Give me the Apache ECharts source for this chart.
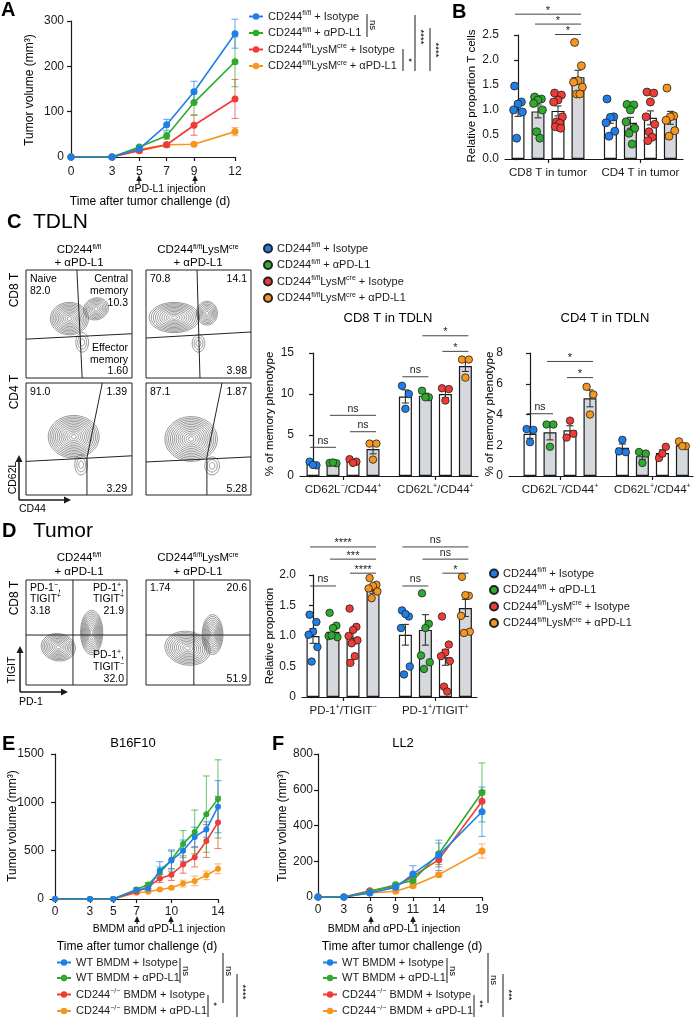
<!DOCTYPE html>
<html>
<head>
<meta charset="utf-8">
<script src="https://cdn.jsdelivr.net/npm/echarts@6/dist/echarts.min.js"></script>
<style>
  html, body { margin: 0; padding: 0; background: #fff; }
  #page { position: relative; width: 694px; height: 1019px; overflow: hidden; }
  .panel { position: absolute; left: 0; top: 0; width: 694px; height: 1100px; }
</style>
</head>
<body>
<div id="page">
  <div class="panel" id="chartA"></div>
  <div class="panel" id="chartB"></div>
  <div class="panel" id="chartC"></div>
  <div class="panel" id="chartD"></div>
  <div class="panel" id="chartE"></div>
  <div class="panel" id="chartF"></div>
</div>
<script>
// ---------- data ----------
// group names ('^' marks superscript)
const namesCD = ['CD244^fl/fl^ + Isotype', 'CD244^fl/fl^ + αPD-L1', 'CD244^fl/fl^LysM^cre^ + Isotype', 'CD244^fl/fl^LysM^cre^ + αPD-L1']
const namesBM = ['WT BMDM + Isotype', 'WT BMDM + αPD-L1', 'CD244^−/−^ BMDM + Isotype', 'CD244^−/−^ BMDM + αPD-L1']

// A: tumor volume
const daysA = [0, 3, 5, 7, 9, 12]
const aIso = [0, 0, 18, 71, 144, 272]
const aIsoErr = [0, 0, 3, 12, 23, 32]
const aPd = [0, 0, 22, 47, 120, 210]
const aPdErr = [0, 0, 3, 8, 27, 55]
const aLysIso = [0, 0, 14, 27, 70, 128]
const aLysIsoErr = [0, 0, 3, 5, 22, 43]
const aLysPd = [0, 0, 17, 27, 28, 56]
const aLysPdErr = [0, 0, 2, 3, 3, 9]

// B: relative proportion T cells
const bGroups = ['CD8 T in tumor', 'CD4 T in tumor']
const bBar8 = [1.0, 0.96, 0.97, 1.65]
const bErr8 = [0.14, 0.13, 0.1, 0.14]
const bBar4 = [0.80, 0.73, 0.83, 0.83]
const bErr4 = [0.08, 0.11, 0.14, 0.13]
const b8Iso = [1.47, 1.15, 1.11, 0.99, 0.95, 0.42]
const b8Pd = [1.25, 1.21, 1.19, 1.12, 0.99, 0.55, 0.42]
const b8LysIso = [1.33, 1.29, 1.19, 1.15, 0.85, 0.75, 0.72, 0.65, 0.62]
const b8LysPd = [2.35, 1.88, 1.58, 1.55, 1.45, 1.31, 1.31]
const b4Iso = [1.21, 0.85, 0.84, 0.73, 0.56, 0.46]
const b4Pd = [1.10, 1.09, 0.99, 0.75, 0.62, 0.52, 0.30]
const b4LysIso = [1.35, 1.33, 1.15, 0.85, 0.70, 0.55, 0.44, 0.37]
const b4LysPd = [1.43, 0.87, 0.85, 0.78, 0.57, 0.46]
const bSig = [[0, 0, 3, 2.92], [0, 1, 3, 2.72], [0, 2, 3, 2.51]]
const bSigText = ['*', '*', '*']

// C: TDLN flow + memory phenotype
const cGroups = ['CD62L^−^/CD44^+^', 'CD62L^+^/CD44^+^']
const c8Bar1 = [1.45, 1.6, 1.8, 3.3]
const c8Err1 = [0.15, 0.05, 0.15, 0.6]
const c8Bar2 = [9.7, 9.8, 10.0, 13.4]
const c8Err2 = [0.8, 0.3, 0.45, 0.65]
const c8Iso1 = [1.75, 1.3, 1.35]
const c8Pd1 = [1.6, 1.55, 1.65]
const c8LysIso1 = [2.05, 1.75, 1.6]
const c8LysPd1 = [3.95, 3.95, 2.0]
const c8Iso2 = [11.0, 10.0, 8.2]
const c8Pd2 = [10.4, 9.6, 9.6]
const c8LysIso2 = [10.7, 10.6, 9.2]
const c8LysPd2 = [14.2, 14.2, 12.0]
const c8Sig = [[0, 0, 1, 3.5], [0, 1, 3, 7.4], [0, 2, 3, 5.4], [1, 0, 1, 12.1], [1, 1, 3, 17.1], [1, 2, 3, 15.2]]
const c8SigText = ['ns', 'ns', 'ns', 'ns', '*', '*']
const c4Bar1 = [2.75, 2.85, 2.97, 5.05]
const c4Err1 = [0.3, 0.5, 0.3, 0.55]
const c4Bar2 = [1.83, 1.29, 1.5, 2.0]
const c4Err2 = [0.25, 0.2, 0.2, 0.1]
const c4Iso1 = [3.05, 3.0, 2.2]
const c4Pd1 = [3.35, 3.35, 1.9]
const c4LysIso1 = [2.5, 2.75, 3.6]
const c4LysPd1 = [5.8, 5.3, 4.0]
const c4Iso2 = [1.6, 1.55, 2.35]
const c4Pd2 = [1.56, 1.46, 0.85]
const c4LysIso2 = [1.17, 1.9, 1.46]
const c4LysPd2 = [2.25, 1.94, 1.94]
const c4Sig = [[0, 0, 1, 4.05], [0, 1, 3, 7.45], [0, 2, 3, 6.4]]
const c4SigText = ['ns', '*', '*']
// flow gates (plot units 0-100) and contour populations [cx, cy, rx, ry, levels, angle]
const gateC8a = [[[48, 100], [53, 0]], [[0, 36], [100, 41]]]
const gateC8b = [[[48.6, 100], [51.4, 0]], [[0, 37], [100, 42.6]]]
const gateC4a = [[[72, 100], [57.5, 33], [57.5, 0]], [[0, 30], [100, 35]]]
const gateC4b = [[[72.4, 100], [58, 34], [58, 0]], [[0, 29.5], [100, 34]]]
const popC8a = [[41, 55, 18, 15, 11, 0], [66, 64, 12, 10, 8, -20], [53, 33, 6, 9, 3, 0]]
const popC8b = [[27, 56, 24, 14, 11, 0], [58, 60, 10, 11, 8, 0], [50, 32, 6, 8, 3, 0]]
const popC4a = [[45, 52, 24, 19, 13, 0], [52, 27, 6, 9, 3, 0]]
const popC4b = [[43, 50, 25, 20, 13, 0], [63, 26, 7, 8, 3, 0]]

// D: tumor flow + relative proportion
const dGroups = ['PD-1^+^/TIGIT^−^', 'PD-1^+^/TIGIT^+^']
const dBar1 = [1.0, 1.07, 0.97, 1.75]
const dErr1 = [0.12, 0.07, 0.1, 0.05]
const dBar2 = [1.02, 1.1, 0.65, 1.46]
const dErr2 = [0.17, 0.25, 0.13, 0.14]
const d1Iso = [1.35, 1.23, 1.07, 1.02, 0.82, 0.58]
const d1Pd = [1.38, 1.17, 1.13, 1.0, 0.98, 1.01]
const d1LysIso = [1.45, 1.15, 1.1, 1.0, 0.93, 0.88, 0.67, 0.56]
const d1LysPd = [1.95, 1.84, 1.82, 1.78, 1.73, 1.62]
const d2Iso = [1.42, 1.32, 1.36, 1.13, 0.5, 0.37]
const d2Pd = [1.7, 1.2, 1.13, 0.68, 0.57, 0.46]
const d2LysIso = [1.32, 0.86, 0.73, 0.67, 0.59, 0.17, 0.09]
const d2LysPd = [1.97, 1.66, 1.67, 1.33, 1.07, 1.05]
const dSig = [[0, 0, 3, 2.46], [0, 1, 3, 2.26], [0, 2, 3, 2.03], [0, 0, 1, 1.82], [1, 0, 3, 2.46], [1, 1, 3, 2.26], [1, 2, 3, 2.03], [1, 0, 1, 1.82]]
const dSigText = ['****', '***', '****', 'ns', 'ns', 'ns', '*', 'ns']
const gateDa = [[[46.5, 100], [46.5, 0]], [[0, 47.6], [100, 47.6]]]
const gateDb = [[[46, 100], [46, 0]], [[0, 47.6], [100, 47.6]]]
const popDa = [[32, 36, 17, 13, 10, 10], [65, 50, 11, 21, 11, 0]]
const popDb = [[40, 35, 22, 16, 11, 10], [64, 48, 10, 19, 10, 0]]

// E: B16F10
const daysE = [0, 3, 5, 7, 8, 9, 10, 11, 12, 13, 14]
const eWtIso = [0, 0, 0, 92, 109, 296, 398, 500, 642, 719, 955]
const eWtIsoErr = [0, 0, 0, 20, 25, 90, 110, 110, 100, 80, 270]
const eWtPd = [0, 0, 0, 99, 150, 272, 405, 568, 694, 878, 1035]
const eWtPdErr = [0, 0, 0, 15, 20, 60, 90, 140, 226, 395, 405]
const eKoIso = [0, 0, 0, 75, 126, 211, 252, 357, 432, 600, 792]
const eKoIsoErr = [0, 0, 0, 15, 20, 40, 60, 90, 100, 170, 270]
const eKoPd = [0, 0, 0, 65, 75, 99, 116, 160, 187, 245, 313]
const eKoPdErr = [0, 0, 0, 10, 10, 12, 15, 35, 50, 45, 50]

// F: LL2
const daysF = [0, 3, 6, 9, 11, 14, 19]
const fWtIso = [0, 0, 22, 54, 128, 233, 477]
const fWtIsoErr = [0, 0, 4, 10, 47, 85, 138]
const fWtPd = [0, 0, 30, 69, 93, 242, 585]
const fWtPdErr = [0, 0, 4, 10, 15, 60, 165]
const fKoIso = [0, 0, 35, 60, 115, 209, 536]
const fKoIsoErr = [0, 0, 4, 8, 15, 40, 60]
const fKoPd = [0, 0, 22, 32, 63, 125, 257]
const fKoPdErr = [0, 0, 3, 5, 8, 10, 40]

// ---------- styles / helpers ----------
const FONT = '"Liberation Sans", Arial, Helvetica, sans-serif'
const INK = '#1a1a1a'
const COLORS = ['#1f7fe8', '#2faa2f', '#ee3b36', '#f7961e']
const BAR_FILL = ['#ffffff', '#d5d8dc', '#ffffff', '#d5d8dc']
const JIT = [-0.17, 0.17, 0, -0.22, 0.22, -0.07, 0.09, -0.13, 0.13]
const GROUP_OFFSET = 4.62
const LEGEND_SIZE = 11

function rt(s) {
  return s.split('^').map((p, i) => p ? (i % 2 ? '{s|' + p + '}' : '{n|' + p + '}') : '').join('')
}
function rich(size, color, bold) {
  return {
    n: { fontSize: size, fontFamily: FONT, color: color || INK, fontWeight: bold ? 'bold' : 'normal', lineHeight: size + 2 },
    s: { fontSize: Math.round(size * 0.64), fontFamily: FONT, color: color || INK, verticalAlign: 'top' }
  }
}
function T(x, y, s, size, o) {
  o = o || {}
  return {
    type: 'text', x: x, y: y, rotation: o.rot || 0, silent: true, z: 20,
    style: { text: rt(s), rich: rich(size, o.color, o.bold), align: o.align || 'left', verticalAlign: 'middle' }
  }
}
function L(x1, y1, x2, y2, w) {
  return { type: 'line', silent: true, z: 20, shape: { x1: x1, y1: y1, x2: x2, y2: y2 }, style: { stroke: INK, lineWidth: w || 1 } }
}
function upArrow(x, tip, tail) {
  return [L(x, tail, x, tip + 4, 1.2),
    { type: 'polygon', silent: true, z: 20, shape: { points: [[x, tip], [x - 2.8, tip + 6], [x + 2.8, tip + 6]] }, style: { fill: INK } }]
}
function rightArrow(x1, tip, y) {
  return [L(x1, y, tip - 4, y, 1.5),
    { type: 'polygon', silent: true, z: 20, shape: { points: [[tip, y], [tip - 7, y - 3.5], [tip - 7, y + 3.5]] }, style: { fill: INK } }]
}
function axisUpArrow(x, tip, y) {
  return [L(x, y, x, tip + 4, 1.5),
    { type: 'polygon', silent: true, z: 20, shape: { points: [[x, tip], [x - 3.5, tip + 7], [x + 3.5, tip + 7]] }, style: { fill: INK } }]
}
function bracket(x, y1, y2, text, ty) {
  return [L(x, y1, x, y2, 1), T(x + 6, ty, text, 9.5, { rot: -Math.PI / 2, align: 'center' })]
}

function yAxisV(gi, min, max, interval, fmt, margin) {
  return {
    type: 'value', gridIndex: gi, min: min, max: max, interval: interval,
    axisLine: { show: true, lineStyle: { color: INK, width: 1.2 } },
    axisTick: { show: true, length: 4, lineStyle: { color: INK, width: 1.2 } },
    axisLabel: { color: INK, fontFamily: FONT, fontSize: 12, margin: margin || 6, formatter: fmt || ((v) => String(v)) },
    splitLine: { show: false }
  }
}
function xAxisDays(gi, min, max, ticks, margin) {
  return {
    type: 'value', gridIndex: gi, min: min, max: max,
    axisLine: { show: true, onZero: false, lineStyle: { color: INK, width: 1.2 } },
    axisTick: { show: true, length: 4, customValues: ticks, lineStyle: { color: INK, width: 1.2 } },
    axisLabel: { color: INK, fontFamily: FONT, fontSize: 12, margin: margin || 7, customValues: ticks },
    splitLine: { show: false }
  }
}

function errRender(color, cap) {
  return function (params, api) {
    const e = api.value(2)
    if (!e) return null
    const x = api.value(0), m = api.value(1)
    const top = api.coord([x, m + e]), bot = api.coord([x, m - e])
    const st = { stroke: color, lineWidth: 1.1 }
    return {
      type: 'group', children: [
        { type: 'line', shape: { x1: top[0], y1: top[1], x2: bot[0], y2: bot[1] }, style: st },
        { type: 'line', shape: { x1: top[0] - cap, y1: top[1], x2: top[0] + cap, y2: top[1] }, style: st },
        { type: 'line', shape: { x1: bot[0] - cap, y1: bot[1], x2: bot[0] + cap, y2: bot[1] }, style: st }
      ]
    }
  }
}

function tumorSeries(gi, names, days, vals, errs, size) {
  const out = []
  // drawn orange first so blue ends on top
  for (let k = 3; k >= 0; k--) {
    out.push({
      type: 'custom', xAxisIndex: gi, yAxisIndex: gi, clip: false, silent: true, z: 2,
      renderItem: errRender(echarts.color.modifyAlpha(COLORS[k], 0.65), 3.5),
      data: days.map((d, i) => [d, vals[k][i], errs[k][i]])
    })
    out.push({
      name: names[k], type: 'line', xAxisIndex: gi, yAxisIndex: gi, z: 3 + (3 - k),
      data: days.map((d, i) => [d, vals[k][i]]),
      symbol: 'circle', symbolSize: size, showSymbol: true,
      itemStyle: { color: COLORS[k] }, lineStyle: { color: COLORS[k], width: 1.6 }
    })
  }
  return out
}

function lineLegend(names, left, top) {
  return {
    orient: 'vertical', left: left, top: top, padding: 0, itemGap: 4.5, itemWidth: 14, itemHeight: 8,
    data: names, selectedMode: false,
    formatter: (n) => rt(n),
    textStyle: { fontFamily: FONT, fontSize: LEGEND_SIZE, color: INK, rich: rich(LEGEND_SIZE) }
  }
}
function dotLegend(names, left, top) {
  return {
    orient: 'vertical', left: left, top: top, padding: 0, itemGap: 4.5, itemWidth: 8, itemHeight: 8, icon: 'circle',
    data: names, selectedMode: false,
    formatter: (n) => rt(n),
    textStyle: { fontFamily: FONT, fontSize: LEGEND_SIZE, color: INK, rich: rich(LEGEND_SIZE) }
  }
}

function slot(g, i) { return g * GROUP_OFFSET + i }

// bar + dots + SEM + significance in one grid
function barPanel(gi, box, yCfg, groupLabels, bars, errs, dots, sig, sigText, dotSize) {
  const mid = [slot(0, 1.5), slot(1, 1.5)]
  const grid = { left: box[0], top: box[1], width: box[2], height: box[3] }
  const xAxis = {
    type: 'value', gridIndex: gi, min: box[4], max: box[5],
    axisLine: { show: true, onZero: false, lineStyle: { color: INK, width: 1.2 } },
    axisTick: { show: true, length: 4, customValues: mid, lineStyle: { color: INK, width: 1.2 } },
    axisLabel: {
      customValues: mid, margin: 7,
      formatter: (v) => rt(groupLabels[v < GROUP_OFFSET ? 0 : 1]),
      rich: rich(11.5)
    },
    splitLine: { show: false }
  }
  const yAxis = yAxisV(gi, yCfg[0], yCfg[1], yCfg[2], yCfg[3], 6)
  const series = []
  const barData = []
  const errData = []
  for (let g = 0; g < 2; g++) {
    for (let i = 0; i < 4; i++) {
      barData.push({ value: [slot(g, i), bars[g][i]], itemStyle: { color: BAR_FILL[i] } })
      errData.push([slot(g, i), bars[g][i], errs[g][i]])
    }
  }
  series.push({
    type: 'bar', xAxisIndex: gi, yAxisIndex: gi, barWidth: 13, silent: true, z: 2,
    itemStyle: { borderColor: INK, borderWidth: 1.2 }, data: barData
  })
  series.push({
    type: 'custom', xAxisIndex: gi, yAxisIndex: gi, clip: false, silent: true, z: 3,
    renderItem: errRender('#333', 3.5), data: errData
  })
  for (let i = 0; i < 4; i++) {
    const pts = []
    for (let g = 0; g < 2; g++) {
      dots[g][i].forEach((v, k) => pts.push([slot(g, i) + JIT[k % JIT.length], v]))
    }
    series.push({
      name: namesCD[i], type: 'scatter', xAxisIndex: gi, yAxisIndex: gi, z: 4, silent: true,
      symbolSize: dotSize, data: pts,
      itemStyle: { color: COLORS[i], borderColor: '#222', borderWidth: 0.8, opacity: 1 }
    })
  }
  series.push({
    type: 'custom', xAxisIndex: gi, yAxisIndex: gi, clip: false, silent: true, z: 5,
    data: sig.map((s) => [slot(s[0], s[1]), slot(s[0], s[2]), s[3]]),
    renderItem: function (params, api) {
      const a = api.coord([api.value(0), api.value(2)])
      const b = api.coord([api.value(1), api.value(2)])
      const label = sigText[params.dataIndex]
      return {
        type: 'group', children: [
          { type: 'line', shape: { x1: a[0] - 3, y1: a[1], x2: b[0] + 3, y2: b[1] }, style: { stroke: '#444', lineWidth: 1 } },
          {
            type: 'text', x: (a[0] + b[0]) / 2, y: a[1] - (label === 'ns' ? 1 : -2),
            style: { text: label, fontFamily: FONT, fontSize: label === 'ns' ? 10.5 : 11, fill: INK, align: 'center', verticalAlign: 'bottom' }
          }
        ]
      }
    }
  })
  return { grid: grid, xAxis: xAxis, yAxis: yAxis, series: series }
}

function blobRender(params, api) {
  const c = api.coord([api.value(0), api.value(1)])
  const s = api.size([api.value(2), api.value(3)])
  const n = api.value(4), ang = api.value(5) * Math.PI / 180
  const kids = []
  for (let k = n; k >= 1; k--) {
    const f = Math.pow(k / n, 0.9)
    const pts = []
    for (let t = 0; t < 48; t++) {
      const a = t / 48 * Math.PI * 2
      const ex = Math.cos(a) * s[0] * f, ey = Math.sin(a) * s[1] * f
      pts.push([c[0] + ex * Math.cos(ang) - ey * Math.sin(ang), c[1] + ex * Math.sin(ang) + ey * Math.cos(ang)])
    }
    kids.push({ type: 'polygon', shape: { points: pts }, style: { fill: 'none', stroke: '#5e5e5e', lineWidth: 0.65 } })
  }
  return { type: 'group', children: kids }
}

// one flow plot: box grid, gate lines, contour populations
function flowPanel(gi, box, gates, pops) {
  const grid = { left: box[0], top: box[1], width: box[2], height: box[3], show: true, borderColor: '#222', borderWidth: 1, backgroundColor: 'transparent' }
  const xAxis = { type: 'value', gridIndex: gi, min: 0, max: 100, show: false }
  const yAxis = { type: 'value', gridIndex: gi, min: 0, max: 100, show: false }
  const series = [{
    type: 'custom', xAxisIndex: gi, yAxisIndex: gi, silent: true, z: 2, renderItem: blobRender, data: pops
  }]
  gates.forEach((g) => series.push({
    type: 'line', xAxisIndex: gi, yAxisIndex: gi, silent: true, z: 3, symbol: 'none',
    data: g, lineStyle: { color: '#222', width: 1 }
  }))
  return { grid: grid, xAxis: xAxis, yAxis: yAxis, series: series }
}

function combine(parts) {
  const o = { grid: [], xAxis: [], yAxis: [], series: [] }
  parts.forEach((p) => { o.grid.push(p.grid); o.xAxis.push(p.xAxis); o.yAxis.push(p.yAxis); o.series = o.series.concat(p.series) })
  return o
}

// ---------- A ----------
const chartA = echarts.init(document.getElementById('chartA'))
chartA.setOption({
  animation: false,
  grid: { left: 71, top: 21, width: 164, height: 136 },
  xAxis: xAxisDays(0, 0, 12, daysA, 9),
  yAxis: yAxisV(0, 0, 300, 100, null, 7),
  legend: lineLegend(namesCD, 248, 10),
  series: tumorSeries(0, namesCD, daysA, [aIso, aPd, aLysIso, aLysPd], [aIsoErr, aPdErr, aLysIsoErr, aLysPdErr], 7),
  graphic: [
    T(1, 10, 'A', 20, { bold: true }),
    T(30, 90, 'Tumor volume (mm³)', 12, { rot: Math.PI / 2, align: 'center' }),
    T(167, 189, 'αPD-L1 injection', 10.5, { align: 'center' }),
    T(150, 202, 'Time after tumor challenge (d)', 12, { align: 'center' })
  ].concat(upArrow(139, 175, 184), upArrow(195, 175, 184),
    bracket(367, 14, 37, 'ns', 25), bracket(403, 49, 71, '*', 60),
    bracket(415, 15, 71, '****', 37), bracket(430, 28, 71, '****', 50))
})

// ---------- B ----------
const chartB = echarts.init(document.getElementById('chartB'))
const partB = barPanel(0, [505, 35, 178, 124, -0.65, 8.25], [0, 2.5, 0.5, (v) => v.toFixed(1)], bGroups,
  [bBar8, bBar4], [bErr8, bErr4],
  [[b8Iso, b8Pd, b8LysIso, b8LysPd], [b4Iso, b4Pd, b4LysIso, b4LysPd]], bSig, bSigText, 8)
chartB.setOption(Object.assign({ animation: false }, combine([partB]), {
  graphic: [
    T(452, 12, 'B', 20, { bold: true }),
    T(472, 96, 'Relative proportion T cells', 11.5, { rot: Math.PI / 2, align: 'center' })
  ]
}))

// ---------- C ----------
const chartC = echarts.init(document.getElementById('chartC'))
const partsC = [
  flowPanel(0, [26, 270, 106, 108], gateC8a, popC8a),
  flowPanel(1, [146, 270, 105, 108], gateC8b, popC8b),
  flowPanel(2, [26, 383, 106, 112], gateC4a, popC4a),
  flowPanel(3, [146, 383, 105, 112], gateC4b, popC4b),
  barPanel(4, [300, 353, 178, 123, -0.65, 8.25], [0, 15, 5, null], cGroups,
    [c8Bar1, c8Bar2], [c8Err1, c8Err2],
    [[c8Iso1, c8Pd1, c8LysIso1, c8LysPd1], [c8Iso2, c8Pd2, c8LysIso2, c8LysPd2]], c8Sig, c8SigText, 7.5),
  barPanel(5, [509, 353, 184, 123, -1.05, 8.15], [0, 8, 2, null], cGroups,
    [c4Bar1, c4Bar2], [c4Err1, c4Err2],
    [[c4Iso1, c4Pd1, c4LysIso1, c4LysPd1], [c4Iso2, c4Pd2, c4LysIso2, c4LysPd2]], c4Sig, c4SigText, 7.5)
]
chartC.setOption(Object.assign({ animation: false }, combine(partsC), {
  legend: dotLegend(namesCD, 263, 242),
  graphic: [
    T(7, 222, 'C', 20, { bold: true }),
    T(33, 222, 'TDLN', 21),
    T(79, 250, 'CD244^fl/fl^', 11.5, { align: 'center' }),
    T(79, 263, '+ αPD-L1', 11.5, { align: 'center' }),
    T(198, 250, 'CD244^fl/fl^LysM^cre^', 11.5, { align: 'center' }),
    T(198, 263, '+ αPD-L1', 11.5, { align: 'center' }),
    T(15, 290, 'CD8 T', 12, { rot: Math.PI / 2, align: 'center' }),
    T(15, 392, 'CD4 T', 12, { rot: Math.PI / 2, align: 'center' }),
    T(30, 279, 'Naive', 10.5), T(30, 291, '82.0', 10.5),
    T(128, 279, 'Central', 10.5, { align: 'right' }), T(128, 291, 'memory', 10.5, { align: 'right' }), T(128, 303, '10.3', 10.5, { align: 'right' }),
    T(128, 348, 'Effector', 10.5, { align: 'right' }), T(128, 360, 'memory', 10.5, { align: 'right' }), T(128, 371, '1.60', 10.5, { align: 'right' }),
    T(150, 279, '70.8', 10.5), T(247, 279, '14.1', 10.5, { align: 'right' }), T(247, 371, '3.98', 10.5, { align: 'right' }),
    T(30, 392, '91.0', 10.5), T(127, 392, '1.39', 10.5, { align: 'right' }), T(127, 489, '3.29', 10.5, { align: 'right' }),
    T(150, 392, '87.1', 10.5), T(247, 392, '1.87', 10.5, { align: 'right' }), T(247, 489, '5.28', 10.5, { align: 'right' }),
    T(13, 478, 'CD62L', 10.5, { rot: Math.PI / 2, align: 'center' }),
    T(19, 509, 'CD44', 10.5),
    T(388, 318, 'CD8 T in TDLN', 13, { align: 'center' }),
    T(605, 318, 'CD4 T in TDLN', 13, { align: 'center' }),
    T(270, 414, '% of memory phenotype', 11.5, { rot: Math.PI / 2, align: 'center' }),
    T(490, 414, '% of memory phenotype', 11.5, { rot: Math.PI / 2, align: 'center' })
  ].concat(axisUpArrow(19, 455, 500), rightArrow(19, 71, 500))
}))

// ---------- D ----------
const chartD = echarts.init(document.getElementById('chartD'))
const partsD = [
  flowPanel(0, [26, 580, 101, 105], gateDa, popDa),
  flowPanel(1, [146, 580, 104, 105], gateDb, popDb),
  barPanel(2, [302, 575, 175, 122, -0.55, 8.2], [0, 2, 0.5, (v) => (v === 0 ? '0' : v.toFixed(1))], dGroups,
    [dBar1, dBar2], [dErr1, dErr2],
    [[d1Iso, d1Pd, d1LysIso, d1LysPd], [d2Iso, d2Pd, d2LysIso, d2LysPd]], dSig, dSigText, 7.5)
]
chartD.setOption(Object.assign({ animation: false }, combine(partsD), {
  legend: dotLegend(namesCD, 489, 567),
  graphic: [
    T(2, 531, 'D', 20, { bold: true }),
    T(33, 531, 'Tumor', 21),
    T(79, 558, 'CD244^fl/fl^', 11.5, { align: 'center' }),
    T(79, 572, '+ αPD-L1', 11.5, { align: 'center' }),
    T(198, 558, 'CD244^fl/fl^LysM^cre^', 11.5, { align: 'center' }),
    T(198, 572, '+ αPD-L1', 11.5, { align: 'center' }),
    T(15, 598, 'CD8 T', 12, { rot: Math.PI / 2, align: 'center' }),
    T(30, 588, 'PD-1^−^,', 10.5), T(30, 599, 'TIGIT^+^', 10.5), T(30, 611, '3.18', 10.5),
    T(124, 588, 'PD-1^+^,', 10.5, { align: 'right' }), T(124, 599, 'TIGIT^+^', 10.5, { align: 'right' }), T(124, 611, '21.9', 10.5, { align: 'right' }),
    T(124, 655, 'PD-1^+^,', 10.5, { align: 'right' }), T(124, 667, 'TIGIT^−^', 10.5, { align: 'right' }), T(124, 679, '32.0', 10.5, { align: 'right' }),
    T(150, 588, '1.74', 10.5), T(247, 588, '20.6', 10.5, { align: 'right' }), T(247, 679, '51.9', 10.5, { align: 'right' }),
    T(12, 670, 'TIGIT', 10.5, { rot: Math.PI / 2, align: 'center' }),
    T(19, 702, 'PD-1', 10.5),
    T(270, 636, 'Relative proportion', 11.5, { rot: Math.PI / 2, align: 'center' })
  ].concat(axisUpArrow(20, 646, 692), rightArrow(20, 68, 692))
}))

// ---------- E ----------
const chartE = echarts.init(document.getElementById('chartE'))
chartE.setOption({
  animation: false,
  grid: { left: 50, top: 754, width: 168, height: 145 },
  xAxis: xAxisDays(0, -0.43, 14, [0, 3, 5, 7, 10, 14], 7),
  yAxis: yAxisV(0, 0, 1500, 500, null, 6),
  legend: lineLegend(namesBM, 56, 957),
  series: tumorSeries(0, namesBM, daysE, [eWtIso, eWtPd, eKoIso, eKoPd], [eWtIsoErr, eWtPdErr, eKoIsoErr, eKoPdErr], 6),
  graphic: [
    T(2, 744, 'E', 20, { bold: true }),
    T(133, 743, 'B16F10', 13, { align: 'center' }),
    T(13, 826, 'Tumor volume (mm³)', 12, { rot: Math.PI / 2, align: 'center' }),
    T(159, 929, 'BMDM and αPD-L1 injection', 10.5, { align: 'center' }),
    T(137, 947, 'Time after tumor challenge (d)', 12, { align: 'center' })
  ].concat(upArrow(137, 916, 924), upArrow(171, 916, 924),
    bracket(180, 958, 983, 'ns', 971), bracket(208, 995, 1017, '*', 1004),
    bracket(223, 953, 1003, 'ns', 971), bracket(237, 974, 1017, '****', 992))
})

// ---------- F ----------
const chartF = echarts.init(document.getElementById('chartF'))
chartF.setOption({
  animation: false,
  grid: { left: 318, top: 754, width: 164, height: 143 },
  xAxis: xAxisDays(0, 0, 19, daysF, 7),
  yAxis: yAxisV(0, 0, 800, 200, null, 5),
  legend: lineLegend(namesBM, 322, 957),
  series: tumorSeries(0, namesBM, daysF, [fWtIso, fWtPd, fKoIso, fKoPd], [fWtIsoErr, fWtPdErr, fKoIsoErr, fKoPdErr], 7),
  graphic: [
    T(272, 744, 'F', 20, { bold: true }),
    T(403, 743, 'LL2', 13, { align: 'center' }),
    T(283, 826, 'Tumor volume (mm³)', 12, { rot: Math.PI / 2, align: 'center' }),
    T(394, 929, 'BMDM and αPD-L1 injection', 10.5, { align: 'center' }),
    T(402, 947, 'Time after tumor challenge (d)', 12, { align: 'center' })
  ].concat(upArrow(371, 916, 924), upArrow(413, 916, 924),
    bracket(447, 958, 983, 'ns', 971), bracket(474, 995, 1017, '**', 1004),
    bracket(488, 953, 1003, 'ns', 980), bracket(503, 974, 1017, '***', 995))
})
</script>
</body>
</html>
